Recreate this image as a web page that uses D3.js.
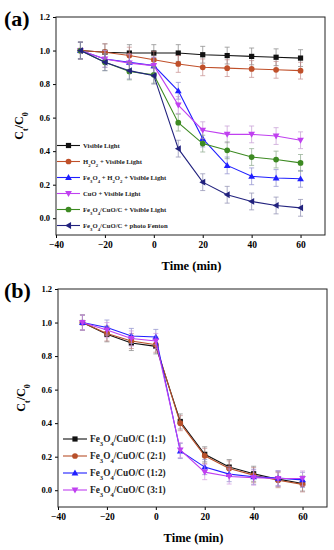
<!DOCTYPE html>
<html>
<head>
<meta charset="utf-8">
<script src="https://cdn.jsdelivr.net/npm/d3@7"></script>
<style>
body { margin: 0; background: #fff; }
svg text { font-family: "Liberation Serif", "DejaVu Serif", serif; font-weight: bold; }
</style>
</head>
<body>
<svg id="chart" width="334" height="550"></svg>
<script>
var times = [-30, -20, -10, 0, 10, 20, 30, 40, 50, 60];
var xTicks = [-40, -20, 0, 20, 40, 60];
var yTicks = [0.0, 0.2, 0.4, 0.6, 0.8, 1.0, 1.2];

// panel (a)
var visLight   = [1.0, 0.99, 0.985, 0.985, 0.985, 0.975, 0.97, 0.965, 0.96, 0.955];
var h2o2Vis    = [1.0, 0.99, 0.97, 0.945, 0.92, 0.9, 0.895, 0.89, 0.885, 0.88];
var fe3o4H2o2  = [1.0, 0.95, 0.93, 0.91, 0.76, 0.475, 0.315, 0.25, 0.24, 0.235];
var cuoVis     = [1.0, 0.95, 0.925, 0.91, 0.675, 0.525, 0.5, 0.5, 0.49, 0.465];
var compVis    = [1.0, 0.93, 0.875, 0.855, 0.57, 0.445, 0.405, 0.365, 0.35, 0.33];
var photoFent  = [1.0, 0.93, 0.88, 0.85, 0.415, 0.215, 0.14, 0.1, 0.076, 0.062];
var errA = 0.05;

// panel (b)
var r11 = [1.0, 0.93, 0.878, 0.858, 0.41, 0.214, 0.138, 0.098, 0.066, 0.04];
var r21 = [1.0, 0.935, 0.89, 0.868, 0.4, 0.205, 0.13, 0.09, 0.06, 0.035];
var r12 = [1.0, 0.97, 0.92, 0.914, 0.234, 0.138, 0.096, 0.08, 0.072, 0.062];
var r31 = [1.0, 0.955, 0.905, 0.89, 0.24, 0.108, 0.082, 0.075, 0.07, 0.07];
var errB = 0.045;

var svg = d3.select("#chart");

function drawPanel(opt) {
  var x = d3.scaleLinear().domain([-40, 70]).range([opt.left, opt.right]);
  var y = d3.scaleLinear().domain([-0.1, 1.2]).range([opt.bottom, opt.top]);
  var g = svg.append("g");

  g.append("g")
    .attr("transform", "translate(0," + opt.bottom + ")")
    .call(d3.axisBottom(x).tickValues(xTicks).tickSize(3).tickPadding(3).tickFormat(d3.format("d")))
    .call(function (a) { a.select(".domain").remove(); a.selectAll("text").style("font-size", "9.5px"); });
  g.append("g")
    .attr("transform", "translate(" + opt.left + ",0)")
    .call(d3.axisLeft(y).tickValues(yTicks).tickSize(3).tickPadding(3).tickFormat(d3.format(".1f")))
    .call(function (a) { a.select(".domain").remove(); a.selectAll("text").style("font-size", "8.5px"); });

  g.append("rect")
    .attr("x", opt.left).attr("y", opt.top)
    .attr("width", opt.right - opt.left).attr("height", opt.bottom - opt.top)
    .attr("fill", "none").attr("stroke", "#222").attr("stroke-width", 1);

  opt.series.forEach(function (s) {
    var pts = times.map(function (t, i) { return [t, s.values[i]]; });
    // error bars
    var eb = g.append("g").attr("stroke", s.err).attr("stroke-width", 0.8).attr("opacity", 0.8);
    pts.forEach(function (p) {
      var cx = x(p[0]);
      eb.append("line").attr("x1", cx).attr("x2", cx).attr("y1", y(p[1] + opt.err)).attr("y2", y(p[1] - opt.err));
      eb.append("line").attr("x1", cx - 2.5).attr("x2", cx + 2.5).attr("y1", y(p[1] + opt.err)).attr("y2", y(p[1] + opt.err));
      eb.append("line").attr("x1", cx - 2.5).attr("x2", cx + 2.5).attr("y1", y(p[1] - opt.err)).attr("y2", y(p[1] - opt.err));
    });
    g.append("path")
      .attr("d", d3.line().x(function (p) { return x(p[0]); }).y(function (p) { return y(p[1]); })(pts))
      .attr("fill", "none").attr("stroke", s.color).attr("stroke-width", 1.1);
    pts.forEach(function (p) {
      marker(g, s.shape, x(p[0]), y(p[1]), s.color, opt.msize);
    });
  });

  // legend
  opt.series.forEach(function (s, i) {
    var ly = opt.legY + i * opt.legStep;
    g.append("line").attr("x1", opt.legX).attr("x2", opt.legX + opt.legLen)
      .attr("y1", ly).attr("y2", ly).attr("stroke", s.color).attr("stroke-width", 1.1);
    marker(g, s.shape, opt.legX + opt.legLen / 2, ly, s.color, opt.msize);
    var t = g.append("text").attr("x", opt.legX + opt.legLen + 3).attr("y", ly)
      .attr("dy", "0.35em").style("font-size", opt.legFont + "px").attr("fill", "#222");
    s.label.forEach(function (part) {
      var ts = t.append("tspan").text(part[0]);
      if (part[1]) {
        ts.attr("baseline-shift", "sub").style("font-size", (opt.legFont * 0.72) + "px");
      }
    });
  });

  // axis titles
  g.append("text").attr("x", (x(-40) + x(70)) / 2 + 1).attr("y", opt.bottom + 35)
    .attr("text-anchor", "middle").style("font-size", "12.5px").text("Time (min)");
  var yl = g.append("text")
    .attr("transform", "translate(" + (opt.left - 33) + "," + ((opt.top + opt.bottom) / 2) + ") rotate(-90)")
    .attr("text-anchor", "middle").style("font-size", "12px");
  yl.append("tspan").text("C");
  yl.append("tspan").text("t").attr("baseline-shift", "sub").style("font-size", "8px");
  yl.append("tspan").text("/C");
  yl.append("tspan").text("0").attr("baseline-shift", "sub").style("font-size", "8px");

  g.append("text").attr("x", 4).attr("y", opt.top + 9)
    .style("font-size", "22px").text(opt.tag);
}

function marker(g, shape, cx, cy, color, r) {
  if (shape === "square") {
    g.append("rect").attr("x", cx - r).attr("y", cy - r).attr("width", 2 * r).attr("height", 2 * r).attr("fill", color);
    return;
  }
  if (shape === "circle") {
    g.append("circle").attr("cx", cx).attr("cy", cy).attr("r", r * 1.1).attr("fill", color);
    return;
  }
  var pts;
  var k = r * 1.3;
  if (shape === "up") pts = [[0, -k], [k, k * 0.75], [-k, k * 0.75]];
  if (shape === "down") pts = [[0, k], [k, -k * 0.75], [-k, -k * 0.75]];
  if (shape === "left") pts = [[-k, 0], [k * 0.75, -k], [k * 0.75, k]];
  g.append("polygon").attr("points", pts.map(function (p) { return (cx + p[0]) + "," + (cy + p[1]); }).join(" "))
    .attr("fill", color);
}

drawPanel({
  left: 56, right: 325, top: 17, bottom: 235, tag: "(a)", err: errA, msize: 2.6,
  legX: 57, legY: 145.5, legStep: 16, legLen: 23, legFont: 6.7,
  series: [
    { values: visLight, color: "#111111", err: "#777777", shape: "square", label: [["Visible Light"]] },
    { values: h2o2Vis, color: "#c0502a", err: "#c08080", shape: "circle", label: [["H"], ["2", 1], ["O"], ["2", 1], [" + Visible Light"]] },
    { values: fe3o4H2o2, color: "#1f1fff", err: "#8080c8", shape: "up", label: [["Fe"], ["3", 1], ["O"], ["4", 1], [" + H"], ["2", 1], ["O"], ["2", 1], [" + Visible Light"]] },
    { values: cuoVis, color: "#c040f0", err: "#c090d0", shape: "down", label: [["CuO + Visible Light"]] },
    { values: compVis, color: "#3d8a22", err: "#80a080", shape: "circle", label: [["Fe"], ["3", 1], ["O"], ["4", 1], ["/CuO/C + Visible Light"]] },
    { values: photoFent, color: "#22227e", err: "#8080a8", shape: "left", label: [["Fe"], ["3", 1], ["O"], ["4", 1], ["/CuO/C + photo Fenton"]] }
  ]
});

drawPanel({
  left: 58, right: 327, top: 289, bottom: 507, tag: "(b)", err: errB, msize: 2.6,
  legX: 63, legY: 439, legStep: 17, legLen: 24, legFont: 9.3,
  series: [
    { values: r11, color: "#111111", err: "#777777", shape: "square", label: [["Fe"], ["3", 1], ["O"], ["4", 1], ["/CuO/C (1:1)"]] },
    { values: r21, color: "#b8502a", err: "#c08080", shape: "circle", label: [["Fe"], ["3", 1], ["O"], ["4", 1], ["/CuO/C (2:1)"]] },
    { values: r12, color: "#2020ff", err: "#8080c8", shape: "up", label: [["Fe"], ["3", 1], ["O"], ["4", 1], ["/CuO/C (1:2)"]] },
    { values: r31, color: "#c040f0", err: "#d090e0", shape: "down", label: [["Fe"], ["3", 1], ["O"], ["4", 1], ["/CuO/C (3:1)"]] }
  ]
});
</script>
</body>
</html>
